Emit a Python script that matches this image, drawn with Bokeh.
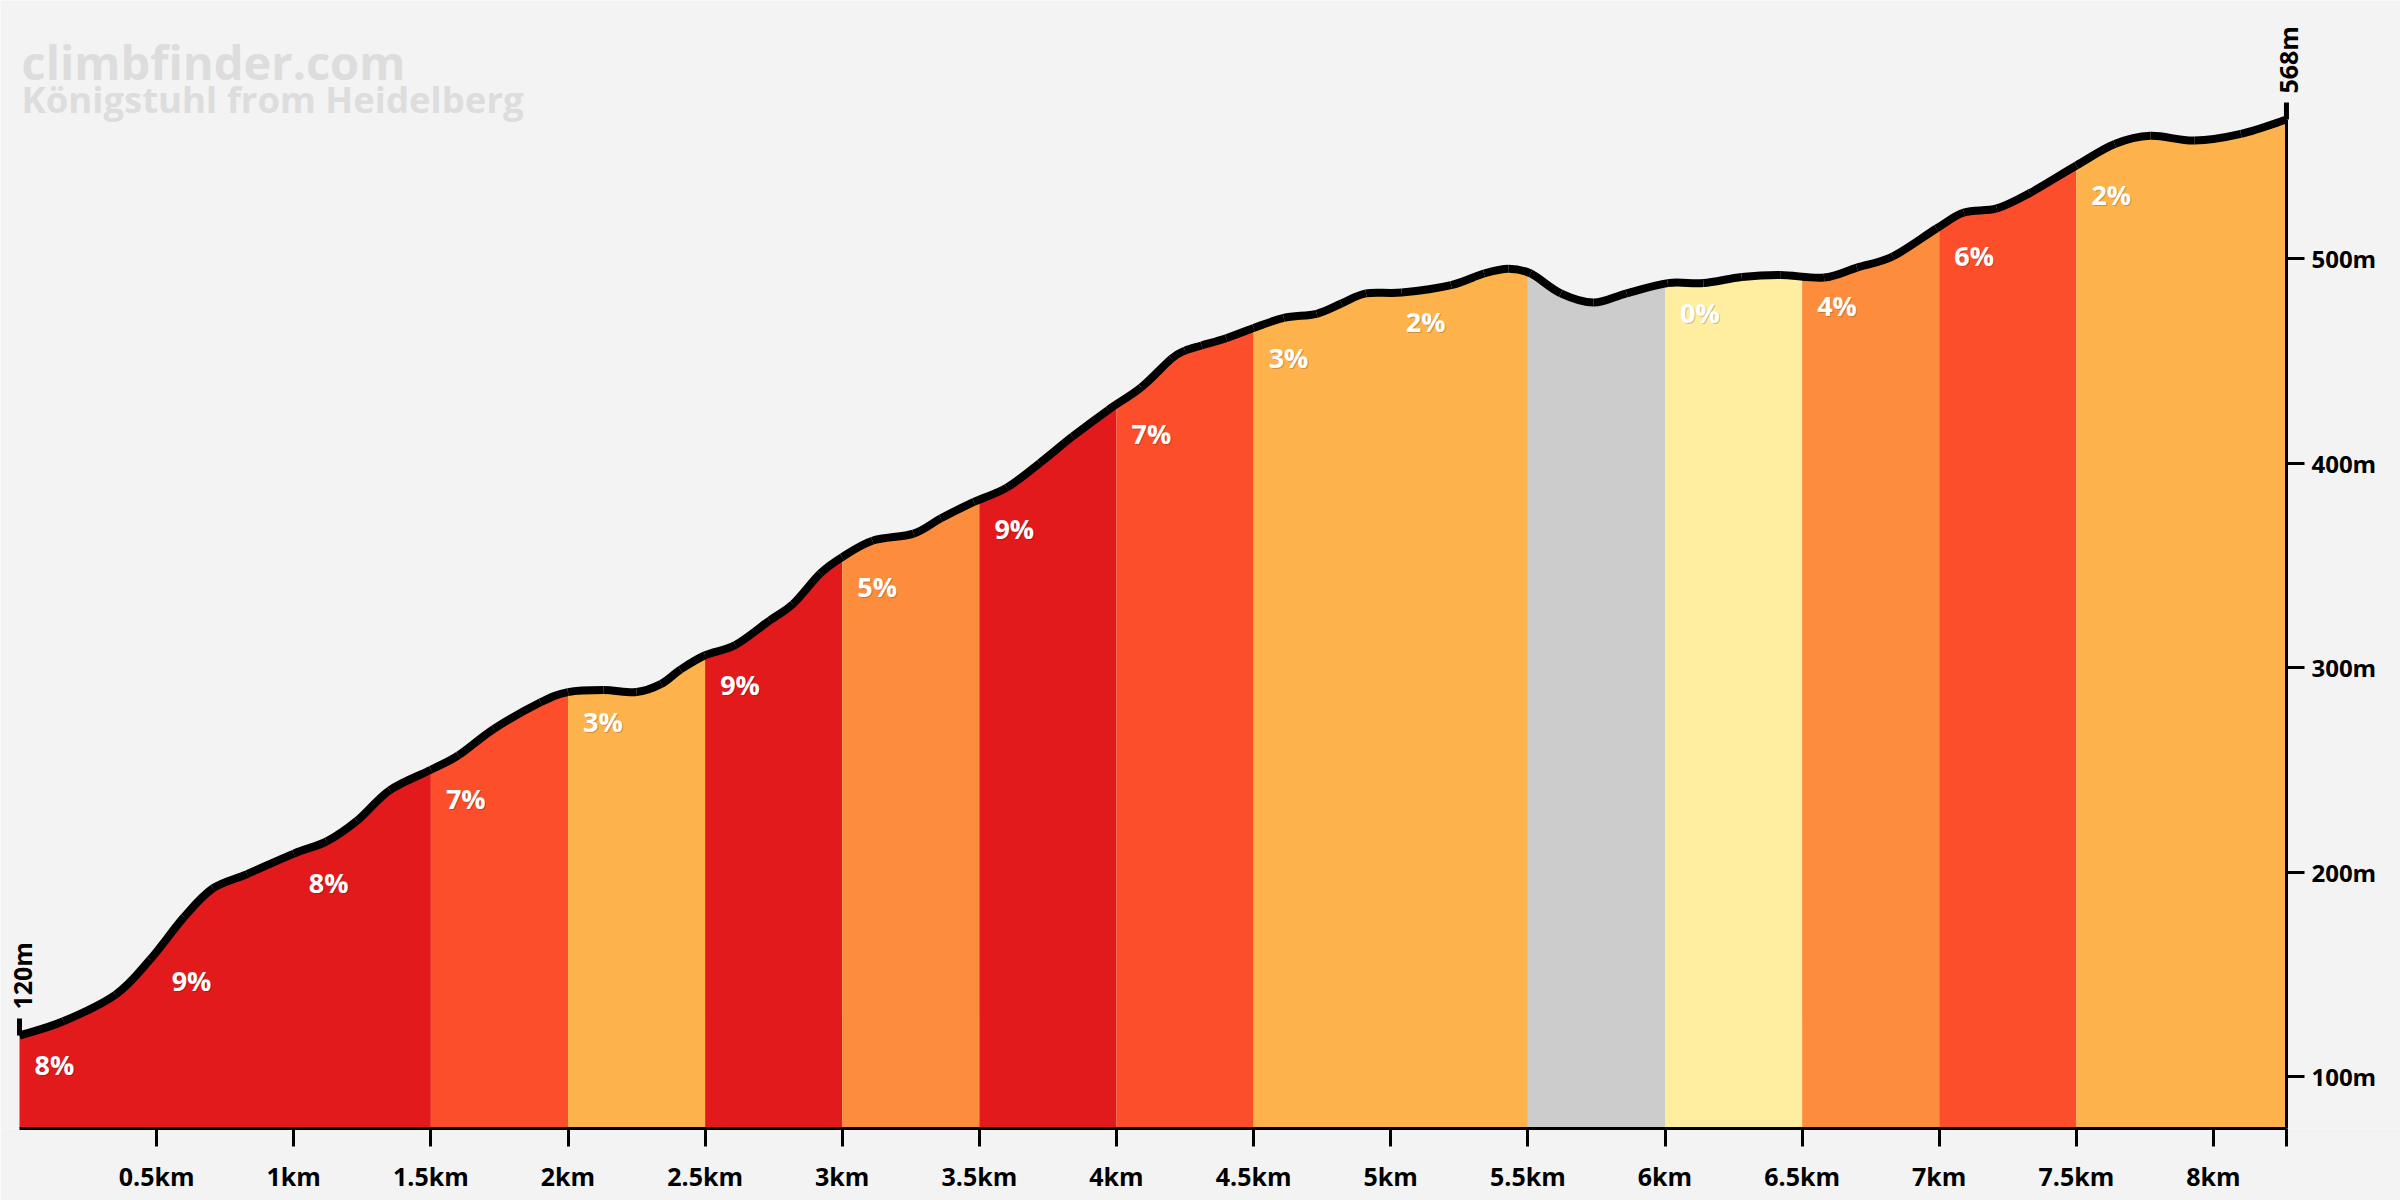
import numpy as np
from bokeh.plotting import figure
from bokeh.models import Range1d, LinearAxis, FixedTicker, CustomJSTickFormatter, Label
from bokeh.core.properties import value
from bokeh.embed import file_html
from bokeh.resources import INLINE

# ---------------- data ----------------
title_text = "climbfinder.com"
subtitle_text = "Königstuhl from Heidelberg"

dist_km = [0.00, 0.16, 0.35, 0.475, 0.60, 0.705, 0.83, 1.00, 1.12, 1.23, 1.35, 1.50,
           1.60, 1.73, 1.90, 2.00, 2.13, 2.25, 2.34, 2.41, 2.50, 2.61, 2.735, 2.82, 2.92,
           3.00, 3.11, 3.26, 3.36, 3.48, 3.60, 3.72, 3.84, 3.97, 4.09, 4.20, 4.25, 4.31,
           4.40, 4.50, 4.61, 4.73, 4.82, 4.91, 5.04, 5.22, 5.34, 5.43, 5.51, 5.62, 5.74,
           5.86, 6.01, 6.14, 6.28, 6.42, 6.58, 6.70, 6.83, 6.99, 7.09, 7.21, 7.33, 7.50,
           7.64, 7.77, 7.93, 8.10, 8.266]
elev_m = [120, 127, 140, 157, 178, 192, 199, 209, 215, 225, 240, 250,
          257, 270, 283, 288, 289, 288, 292, 299, 306, 311, 323, 331, 346,
          354, 362, 365.5, 373, 381, 388, 400, 413, 426, 437, 451, 455, 457.5,
          461, 466, 471, 473, 478, 483, 483.4, 487, 492.7, 495, 492.7, 483, 478.5,
          483, 488, 488, 491, 492, 490.7, 495.6, 501, 514.7, 522.5, 524.5, 532, 545.5,
          556, 560, 557.7, 561, 568]

seg_start_km = [0.0, 0.5, 1.0, 1.5, 2.0, 2.5, 3.0, 3.5, 4.0, 4.5, 5.0, 5.5, 6.0, 6.5, 7.0, 7.5]
seg_grade = [8, 9, 8, 7, 3, 9, 5, 9, 7, 3, 2, -1, 0, 4, 6, 2]
seg_label = ["8%", "9%", "8%", "7%", "3%", "9%", "5%", "9%", "7%", "3%", "2%", "", "0%", "4%", "6%", "2%"]

x_ticks = [0.5, 1.0, 1.5, 2.0, 2.5, 3.0, 3.5, 4.0, 4.5, 5.0, 5.5, 6.0, 6.5, 7.0, 7.5, 8.0]
x_tick_labels = ["0.5km", "1km", "1.5km", "2km", "2.5km", "3km", "3.5km", "4km", "4.5km",
                 "5km", "5.5km", "6km", "6.5km", "7km", "7.5km", "8km"]
y_ticks = [100, 200, 300, 400, 500]
y_tick_labels = ["100m", "200m", "300m", "400m", "500m"]

# ---------------- style ----------------
BG = "#f3f3f3"
FONT = "Open Sans"
PX_PER_KM = 274.25
X_MIN = -19 / PX_PER_KM
X_MAX = X_MIN + 2400 / PX_PER_KM
Y_MIN, Y_MAX = 74.57, 626.2


def grade_color(g):
    if g < 0:
        return "#cccccc"
    if g < 1:
        return "#ffeda0"
    if g < 4:
        return "#feb24c"
    if g < 6:
        return "#fd8d3c"
    if g < 8:
        return "#fc4e2a"
    return "#e31a1c"


end_km = dist_km[-1]
d = np.array(dist_km, dtype=float)
e = np.array(elev_m, dtype=float)

p = figure(width=2400, height=1200, output_backend="svg", toolbar_location=None,
           x_range=Range1d(X_MIN, X_MAX), y_range=Range1d(Y_MIN, Y_MAX),
           x_axis_location=None, y_axis_location=None,
           min_border_left=0, min_border_right=0, min_border_top=0, min_border_bottom=72,
           background_fill_color=BG, border_fill_color=BG, outline_line_color=None)
p.grid.visible = False

# coloured gradient segments (consecutive segments of equal colour merged, no seams)
seg_end_km = seg_start_km[1:] + [end_km]
runs = []
for s, t, g in zip(seg_start_km, seg_end_km, seg_grade):
    c = grade_color(g)
    if runs and runs[-1][2] == c:
        runs[-1][1] = t
    else:
        runs.append([s, t, c])
for s, t, c in runs:
    mask = (d > s) & (d < t)
    xs = np.concatenate([[s], d[mask], [t]])
    ys = np.interp(xs, d, e)
    p.varea(x=xs, y1=Y_MIN, y2=ys, fill_color=c)

# smooth profile line (Catmull-Rom drawn as cubic Bezier pieces through the points)
xp = np.concatenate([[d[0]], d, [d[-1]]])
yp = np.concatenate([[e[0]], e, [e[-1]]])
n = len(d)
x0, y0 = d[:-1], e[:-1]
x1, y1 = d[1:], e[1:]
cx0 = x0 + (xp[2:n + 1] - xp[0:n - 1]) / 6.0
cy0 = y0 + (yp[2:n + 1] - yp[0:n - 1]) / 6.0
cx1 = x1 - (xp[3:n + 2] - xp[1:n]) / 6.0
cy1 = y1 - (yp[3:n + 2] - yp[1:n]) / 6.0
p.bezier(x0=x0, y0=y0, x1=x1, y1=y1, cx0=cx0, cy0=cy0, cx1=cx1, cy1=cy1,
         line_color="black", line_width=8, line_cap="butt")

# gradient labels
lab_x = [s for s, l in zip(seg_start_km, seg_label) if l]
lab_y = [float(np.interp(s, d, e)) for s, l in zip(seg_start_km, seg_label) if l]
lab_t = [l for l in seg_label if l]
p.text(x=lab_x, y=lab_y, text=lab_t, x_offset=16, y_offset=30, text_color="black",
       text_alpha=0.2, text_font=value(FONT), text_font_style="bold",
       text_font_size="27px", text_align="left", text_baseline="middle")
p.text(x=lab_x, y=lab_y, text=lab_t, x_offset=15, y_offset=29, text_color="white",
       text_font=value(FONT), text_font_style="bold",
       text_font_size="27px", text_align="left", text_baseline="middle")

# start / end markers
mk_x = [dist_km[0], dist_km[-1]]
mk_y = [elev_m[0], elev_m[-1]]
mk_t = [f"{elev_m[0]:.0f}m", f"{elev_m[-1]:.0f}m"]
p.ray(x=mk_x, y=mk_y, length=17, length_units="screen", angle=np.pi / 2,
      line_color="black", line_width=5)
for mx, my, mt in zip(mk_x, mk_y, mk_t):
    p.add_layout(Label(x=mx, y=my, text=mt, angle=np.pi / 2, x_offset=2, y_offset=26,
                       text_color="black", text_font=FONT, text_font_style="bold",
                       text_font_size="25px", text_align="left", text_baseline="middle"))

# title
p.text(x=[0], y=[Y_MAX], text=[title_text], x_offset=2, y_offset=61, text_color="#dddddd",
       text_font=value(FONT), text_font_style="bold", text_font_size="47px",
       text_align="left", text_baseline="alphabetic")
p.text(x=[0], y=[Y_MAX], text=[subtitle_text], x_offset=2, y_offset=98, text_color="#dddddd",
       text_font=value(FONT), text_font_style="bold", text_font_size="36.5px",
       text_align="left", text_baseline="alphabetic")

# axes
fmt_code = """
const i = tvals.findIndex(t => Math.abs(t - tick) < 1e-9);
return i >= 0 ? tlabs[i] : "";
"""


def style_axis(ax):
    ax.axis_line_color = "black"
    ax.axis_line_width = 3
    ax.major_tick_line_color = "black"
    ax.major_tick_line_width = 3
    ax.major_tick_in = 0
    ax.major_tick_out = 18
    ax.minor_tick_line_color = None
    ax.major_label_text_font = FONT
    ax.major_label_text_font_style = "bold"
    ax.major_label_text_font_size = "25px"
    ax.major_label_text_color = "black"


xaxis = LinearAxis(ticker=FixedTicker(ticks=x_ticks + [end_km]),
                   formatter=CustomJSTickFormatter(args=dict(tvals=x_ticks, tlabs=x_tick_labels),
                                                   code=fmt_code))
style_axis(xaxis)
xaxis.major_label_standoff = 12
xaxis.bounds = (0, end_km)
p.add_layout(xaxis, "below")

yaxis = LinearAxis(ticker=FixedTicker(ticks=y_ticks),
                   formatter=CustomJSTickFormatter(args=dict(tvals=y_ticks, tlabs=y_tick_labels),
                                                   code=fmt_code))
style_axis(yaxis)
yaxis.major_label_text_font_size = "24px"
yaxis.major_label_standoff = 7
yaxis.bounds = (Y_MIN, elev_m[-1])
yaxis.fixed_location = end_km
p.add_layout(yaxis, "right")

open("out.html", "w").write(file_html(p, INLINE))
